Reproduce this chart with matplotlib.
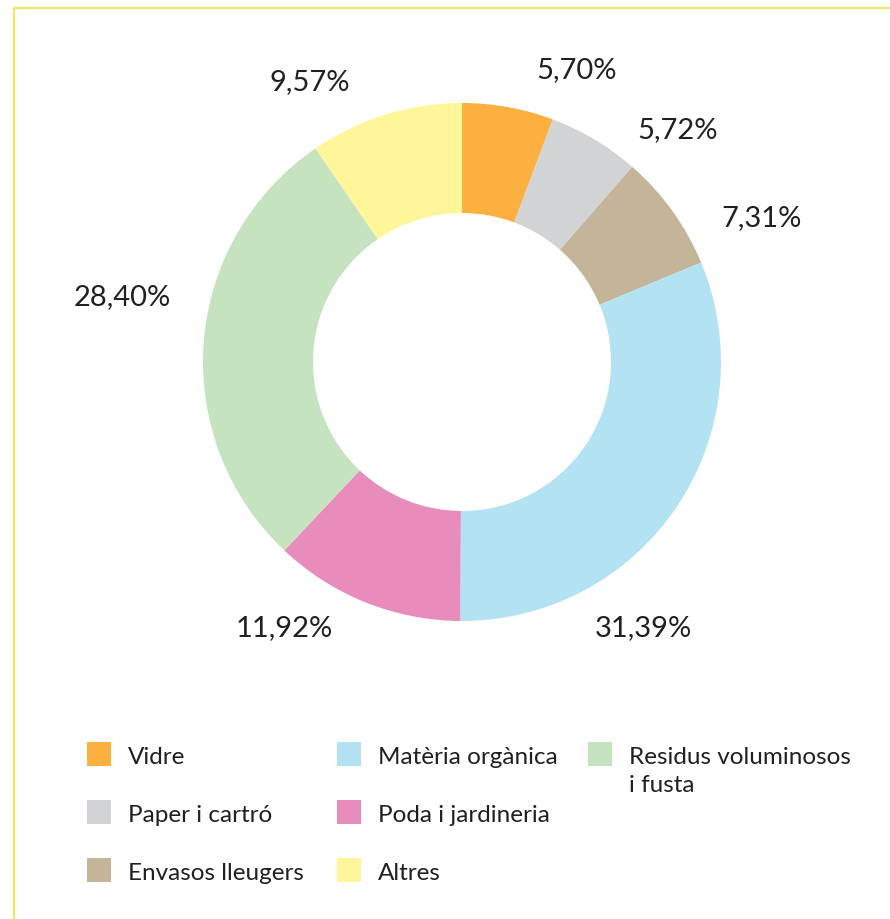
import matplotlib
matplotlib.use("Agg")
import matplotlib.pyplot as plt
from matplotlib.patches import Rectangle

# ---- data ----
categories = ["Vidre", "Paper i cartró", "Envasos lleugers", "Matèria orgànica",
              "Poda i jardineria", "Residus voluminosos\ni fusta", "Altres"]
values = [5.70, 5.72, 7.31, 31.39, 11.92, 28.40, 9.57]
value_labels = ["5,70%", "5,72%", "7,31%", "31,39%", "11,92%", "28,40%", "9,57%"]
colors = ["#FBB040", "#D1D3D4", "#C4B49A", "#B3E2F3", "#E88DBB", "#C5E3BF", "#FFF69A"]

# ---- layout (pixel coordinates, y from top) ----
W, H = 890, 920
center_px = (462, 363)
outer_r = 259
ring_w = 110
label_pos = [(577, 70), (678, 130), (762, 218), (643, 628), (284, 628), (122, 297), (310, 82)]
legend_slots = [(87, 755), (87, 813), (87, 871), (337, 755), (337, 813), (588, 755), (337, 871)]
sq = 24
text_color = "#231F20"
font = ["Lato", "DejaVu Sans"]

fig = plt.figure(figsize=(W / 100, H / 100), dpi=100)
ax = fig.add_axes([0, 0, 1, 1])

ax.pie(values, colors=colors, startangle=90, counterclock=False,
       center=(center_px[0], H - center_px[1]), radius=outer_r,
       wedgeprops=dict(width=ring_w, linewidth=0), frame=True)
ax.set_xlim(0, W)
ax.set_ylim(0, H)
ax.axis("off")

for (x, y), lab in zip(label_pos, value_labels):
    ax.text(x, H - y, lab, ha="center", va="center", fontsize=21,
            color=text_color, family=font)

# legend
for i in range(len(categories)):
    x, y = legend_slots[i]
    ax.add_patch(Rectangle((x, H - y - sq / 2), sq, sq, facecolor=colors[i], edgecolor="none"))
    ax.text(x + 41, H - y + 8, categories[i], ha="left", va="top", fontsize=17.5,
            color=text_color, family=font, linespacing=1.4)

# border
border = "#F3E850"
ax.plot([13.5, 13.5], [0, H - 9], color=border, lw=1.5, solid_capstyle="butt")
ax.plot([13.5, W], [H - 9, H - 9], color=border, lw=1.5, solid_capstyle="butt")

fig.savefig("out.png", dpi=100)
